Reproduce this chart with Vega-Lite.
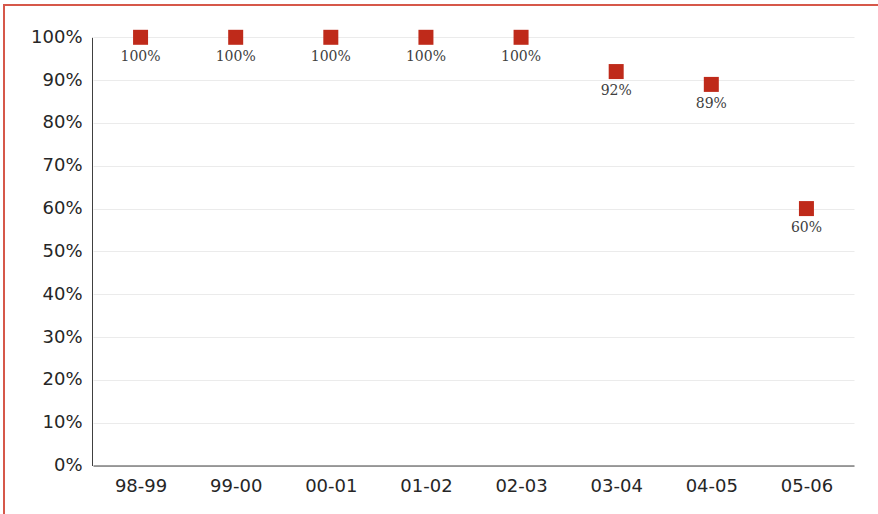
{
  "$schema": "https://vega.github.io/schema/vega-lite/v6.json",
  "width": 878,
  "height": 512,
  "autosize": {"type": "none"},
  "padding": {"left": 4, "top": 5, "right": 0, "bottom": 0},
  "background": "white",
  "config": {
    "view": {"stroke": "#d6584a", "strokeWidth": 2}
  },
  "data": {
    "values": [
      {"year": "98-99", "share": 1.0},
      {"year": "99-00", "share": 1.0},
      {"year": "00-01", "share": 1.0},
      {"year": "01-02", "share": 1.0},
      {"year": "02-03", "share": 1.0},
      {"year": "03-04", "share": 0.92},
      {"year": "04-05", "share": 0.89},
      {"year": "05-06", "share": 0.6}
    ]
  },
  "encoding": {
    "x": {
      "field": "year",
      "type": "ordinal",
      "sort": null,
      "scale": {"type": "point", "range": [89, 850], "padding": 0.5},
      "axis": {
        "title": null,
        "labelAngle": 0,
        "labelFont": "DejaVu Sans",
        "labelFontSize": 18,
        "labelColor": "#262626",
        "labelPadding": 12,
        "ticks": false,
        "grid": false,
        "domainColor": "#404040",
        "domainWidth": 1,
        "offset": -51.5
      }
    },
    "y": {
      "field": "share",
      "type": "quantitative",
      "scale": {"domain": [0, 1], "range": [460.5, 32.3], "nice": false},
      "axis": {
        "title": null,
        "values": [0, 0.1, 0.2, 0.3, 0.4, 0.5, 0.6, 0.7, 0.8, 0.9, 1],
        "format": ".0%",
        "labelFont": "DejaVu Sans",
        "labelFontSize": 18,
        "labelColor": "#262626",
        "labelPadding": 10,
        "ticks": false,
        "grid": true,
        "gridColor": "#ebebeb",
        "gridWidth": 1,
        "domainColor": "#404040",
        "domainWidth": 1,
        "offset": -88
      }
    }
  },
  "layer": [
    {
      "mark": {
        "type": "point",
        "shape": "square",
        "filled": true,
        "size": 225,
        "color": "#bf2a1a",
        "opacity": 1
      }
    },
    {
      "mark": {
        "type": "text",
        "font": "DejaVu Serif",
        "fontSize": 14,
        "color": "#404040",
        "baseline": "alphabetic",
        "dy": 23.4
      },
      "encoding": {
        "text": {"field": "share", "type": "quantitative", "format": ".0%"}
      }
    }
  ]
}
